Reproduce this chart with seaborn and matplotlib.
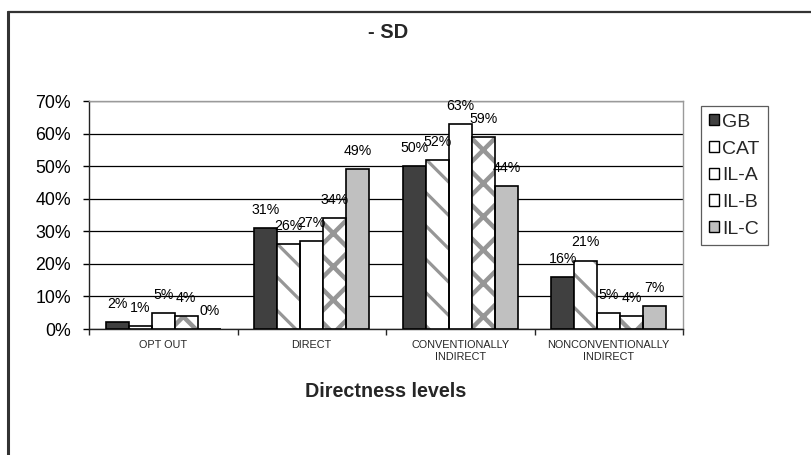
import matplotlib
matplotlib.use("Agg")
import matplotlib.pyplot as plt
from matplotlib.patches import Patch, Rectangle
from matplotlib.lines import Line2D
from matplotlib.ticker import FuncFormatter, MultipleLocator
import seaborn as sns
import pandas as pd

# Share of responses (%) per directness level and group
levels = ["OPT OUT", "DIRECT", "CONVENTIONALLY\nINDIRECT", "NONCONVENTIONALLY\nINDIRECT"]
groups = ["GB", "CAT", "IL-A", "IL-B", "IL-C"]
gb = [2, 31, 50, 16]
cat = [1, 26, 52, 21]
il_a = [5, 27, 63, 5]
il_b = [4, 34, 59, 4]
il_c = [0, 49, 44, 7]
series = [gb, cat, il_a, il_b, il_c]

df = pd.DataFrame(
    [(lvl, g, v) for g, vals in zip(groups, series) for lvl, v in zip(levels, vals)],
    columns=["level", "group", "value"],
)

sns.set_style("white")
plt.rcParams["font.family"] = ["Liberation Sans", "DejaVu Sans"]
plt.rcParams["hatch.linewidth"] = 2.8

face = {"GB": "#404040", "CAT": "#ffffff", "IL-A": "#ffffff", "IL-B": "#ffffff", "IL-C": "#c0c0c0"}
hatches = {"CAT": "\\", "IL-B": "x"}
hatch_width = {"CAT": 2.3, "IL-B": 3.2}
hatch_gray = "#969696"
legend_face = ["#404040", "#ffffff", "#ffffff", "#ffffff", "#c0c0c0"]

fig = plt.figure(figsize=(8.11, 4.55), dpi=100)
ax = fig.add_axes([89 / 811, 1 - 329 / 455, (683 - 89) / 811, (329 - 101) / 455])

sns.barplot(
    data=df, x="level", y="value", hue="group", order=levels, hue_order=groups,
    palette=face, width=0.775, edgecolor="black", linewidth=1.2,
    saturation=1, legend=False, ax=ax, zorder=3,
)

# Patterned series: draw hatch in gray, then a black outline on top
for g, cont in zip(groups, ax.containers):
    if g in hatches:
        for p in cont.patches:
            p.set_hatch(hatches[g])
            if hasattr(p, "set_hatch_linewidth"):
                p.set_hatch_linewidth(hatch_width[g])
            p.set_edgecolor(hatch_gray)
            p.set_linewidth(0)
            ax.add_patch(Rectangle(p.get_xy(), p.get_width(), p.get_height(),
                                   fill=False, edgecolor="black", linewidth=1.2, zorder=4))
    ax.bar_label(cont, labels=[f"{v:.0f}%" for v in cont.datavalues],
                 padding=8, fontsize=10.2, color="black", zorder=5)

ax.set_ylim(0, 70)
ax.yaxis.set_major_locator(MultipleLocator(10))
ax.yaxis.set_major_formatter(FuncFormatter(lambda v, _: f"{v:.0f}%"))
ax.set_xlim(-0.5, len(levels) - 0.5)

ax.grid(axis="y", color="black", linewidth=0.9, zorder=0)
ax.grid(axis="x", visible=False)
for s in ["top", "right"]:
    ax.spines[s].set_color("#9a9a9a")
    ax.spines[s].set_linewidth(1.0)
for s in ["left", "bottom"]:
    ax.spines[s].set_color("#222222")
    ax.spines[s].set_linewidth(1.0)

ax.tick_params(axis="y", labelsize=12.8, length=4, width=1, direction="out",
               left=True, pad=9, colors="black")
ax.set_xticks(range(len(levels)))
ax.set_xticklabels(levels, fontsize=7.8, linespacing=1.25)
ax.tick_params(axis="x", length=0, pad=8)
# Separator ticks between groups
ax.set_xticks([i - 0.5 for i in range(len(levels) + 1)], minor=True)
ax.tick_params(axis="x", which="minor", length=4, width=1, bottom=True, direction="out")

ax.set_ylabel("")
ax.set_xlabel("Directness levels", fontsize=14.2, fontweight="bold", labelpad=14)

fig.text(388 / 811, 1 - 33 / 455, "- SD", fontsize=14.5, fontweight="bold",
         ha="center", va="center")

handles = [Patch(facecolor=c, edgecolor="black", linewidth=1.0) for c in legend_face]
leg = fig.legend(handles, groups, loc="upper left",
                 bbox_to_anchor=(701 / 811, 1 - 106 / 455), fontsize=14,
                 frameon=True, fancybox=False, edgecolor="#333333",
                 handlelength=0.5, handleheight=0.5, handletextpad=0.2,
                 labelspacing=0.5, borderpad=0.4, borderaxespad=0)
leg.get_frame().set_linewidth(0.9)

# Outer chart frame
fig.add_artist(Line2D([8 / 811, 8 / 811], [0, 1 - 12 / 455], transform=fig.transFigure,
                      color="#333333", linewidth=2.2))
fig.add_artist(Line2D([8 / 811, 1], [1 - 12 / 455, 1 - 12 / 455], transform=fig.transFigure,
                      color="#333333", linewidth=1.6))

fig.savefig("out.png", dpi=100, facecolor="white")
